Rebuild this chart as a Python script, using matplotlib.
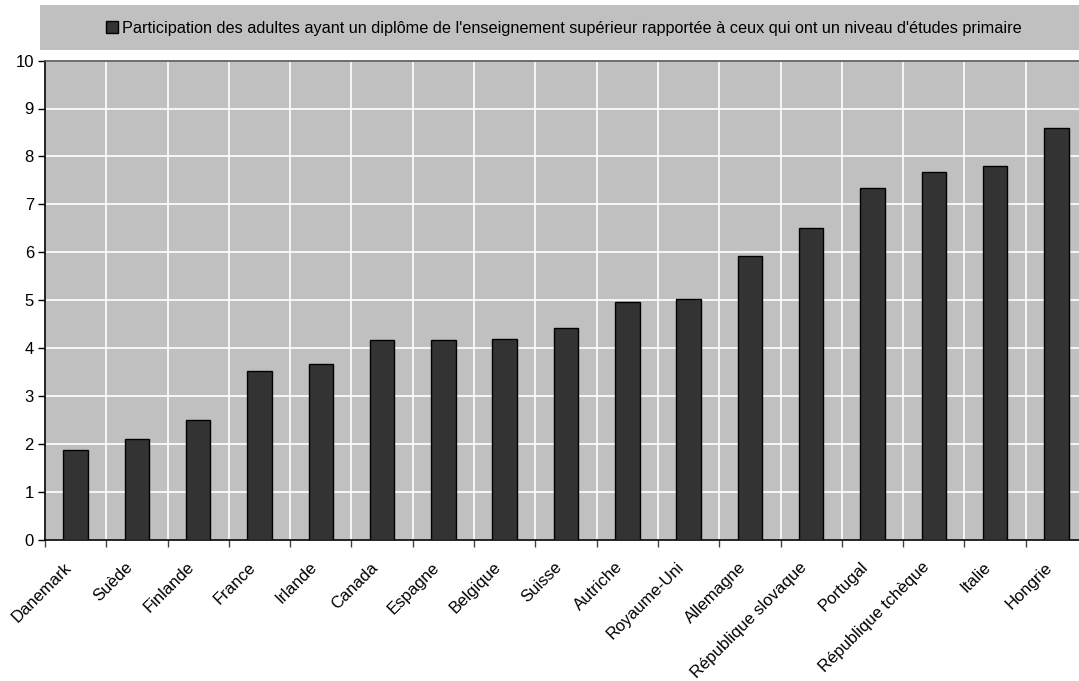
import numpy as np
import matplotlib
matplotlib.use("Agg")
import matplotlib.pyplot as plt
import matplotlib.transforms as mtransforms
from matplotlib.patches import Rectangle

plt.rcParams["font.family"] = ["Liberation Sans", "DejaVu Sans"]

countries = [
    "Danemark", "Suède", "Finlande", "France", "Irlande", "Canada",
    "Espagne", "Belgique", "Suisse", "Autriche", "Royaume-Uni",
    "Allemagne", "République slovaque", "Portugal", "République tchèque",
    "Italie", "Hongrie",
]
values = [
    1.88, 2.11, 2.49, 3.51, 3.67, 4.16,
    4.17, 4.19, 4.41, 4.95, 5.02,
    5.92, 6.51, 7.33, 7.68,
    7.81, 8.59,
]
series_label = ("Participation des adultes ayant un diplôme de l'enseignement "
                "supérieur rapportée à ceux qui ont un niveau d'études primaire")

fig = plt.figure(figsize=(10.79, 6.81), dpi=100)
ax = fig.add_axes([45 / 1079, 1 - 539.6 / 681, 1042 / 1079, 479 / 681])

x = np.arange(len(countries))
ax.bar(x, values, width=0.40, color="#333333", edgecolor="black",
       linewidth=1.0, zorder=3, label=series_label)

ax.set_facecolor("#C0C0C0")
ax.set_xlim(-0.5, len(countries) - 0.5)
ax.set_ylim(0, 10)
ax.set_yticks(range(0, 11))

# category labels under the bars, rotated 45 degrees
ax.set_xticks(x)
ax.set_xticklabels([])
lbl_trans = mtransforms.offset_copy(ax.get_xaxis_transform(), fig=fig,
                                    x=-12, y=-20, units="dots")
for i, name in enumerate(countries):
    ax.text(i, 0, name, transform=lbl_trans, rotation=45, ha="right",
            va="top", rotation_mode="anchor", fontsize=12, clip_on=False)

ax.set_xticks(np.arange(-0.5, len(countries), 1), minor=True)
ax.tick_params(axis="x", which="major", length=0)
ax.tick_params(axis="x", which="minor", length=5, width=1, color="#444444")
ax.tick_params(axis="y", length=5, width=1, labelsize=12, pad=3)

ax.grid(axis="y", which="major", color="white", linewidth=1.2, zorder=0)
ax.grid(axis="x", which="minor", color="white", linewidth=1.2, zorder=0)

for side in ["left", "bottom"]:
    ax.spines[side].set_color("black")
    ax.spines[side].set_linewidth(1.2)
ax.spines["top"].set_color("#555555")
ax.spines["top"].set_linewidth(1.2)
ax.spines["right"].set_visible(False)

# legend band on top
fig.patches.append(Rectangle((40 / 1079, 1 - 50 / 681), 1.0, 45 / 681,
                             transform=fig.transFigure, facecolor="#C0C0C0",
                             edgecolor="none", zorder=0))
leg = fig.legend(loc="center", bbox_to_anchor=(564 / 1079, 1 - 28 / 681),
                 frameon=False, fontsize=11.7, handlelength=0.7,
                 handleheight=0.7, handletextpad=0.25)

fig.savefig("out.png", dpi=100)
